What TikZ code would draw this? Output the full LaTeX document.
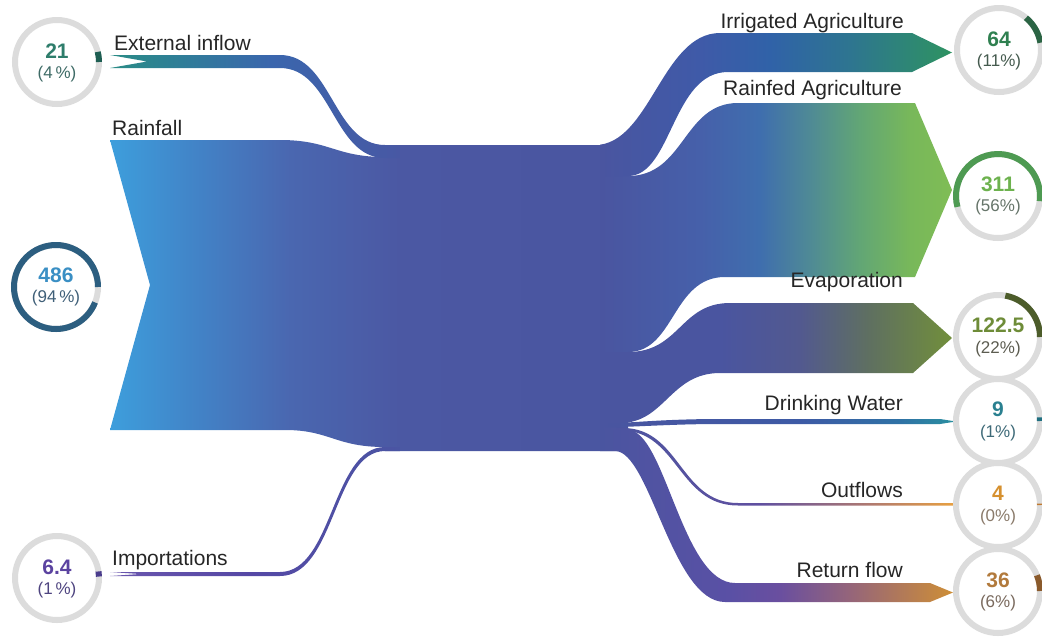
\documentclass[tikz,border=0pt]{standalone}
\usepackage{fontspec}
\setmainfont{Liberation Sans}
\usetikzlibrary{calc}
% trunk colours
\definecolor{tA}{HTML}{3D9EDC}\definecolor{tB}{HTML}{4282C6}\definecolor{tC}{HTML}{4A67B0}
\definecolor{tD}{HTML}{4B58A3}\definecolor{tE}{HTML}{4A55A0}
\definecolor{eA}{HTML}{2A8C86}\definecolor{eB}{HTML}{2F7E98}\definecolor{eC}{HTML}{3A66AD}\definecolor{eD}{HTML}{4858A4}
\definecolor{iA}{HTML}{6A56AE}\definecolor{iB}{HTML}{5548A5}\definecolor{iD}{HTML}{4A55A3}
\definecolor{gB}{HTML}{3F5AA8}\definecolor{gC}{HTML}{3062A8}\definecolor{gD}{HTML}{2E7590}\definecolor{gE}{HTML}{2E9460}
\definecolor{rB}{HTML}{4660AA}\definecolor{rC}{HTML}{3F6EAE}\definecolor{rD}{HTML}{4F8A95}\definecolor{rE}{HTML}{62A675}\definecolor{rF}{HTML}{78B85A}\definecolor{rG}{HTML}{80BD55}
\definecolor{vC}{HTML}{52598F}\definecolor{vD}{HTML}{5F7060}\definecolor{vE}{HTML}{72903A}
\definecolor{dC}{HTML}{3D5AA5}\definecolor{dD}{HTML}{2F72A5}\definecolor{dE}{HTML}{2A90A0}
\definecolor{oB}{HTML}{6050A0}\definecolor{oC}{HTML}{B07A70}\definecolor{oD}{HTML}{E8A040}
\definecolor{fB}{HTML}{5A50A5}\definecolor{fC}{HTML}{6A4F9F}\definecolor{fD}{HTML}{95657A}\definecolor{fE}{HTML}{CF8F35}
\definecolor{ringgray}{HTML}{DCDCDC}
\definecolor{lblgray}{HTML}{262626}
% circle colours: arc / number / percent
\definecolor{a21}{HTML}{1E5E52}\definecolor{n21}{HTML}{2E7D6B}\definecolor{p21}{HTML}{3E6B66}
\definecolor{a486}{HTML}{2C5E80}\definecolor{n486}{HTML}{3A8FC4}\definecolor{p486}{HTML}{3F5F78}
\definecolor{aimp}{HTML}{4A3C8C}\definecolor{nimp}{HTML}{5B43A0}\definecolor{pimp}{HTML}{4E4480}
\definecolor{airr}{HTML}{2B6444}\definecolor{nirr}{HTML}{2F8050}\definecolor{pirr}{HTML}{445A4E}
\definecolor{arf}{HTML}{4E9A52}\definecolor{nrf}{HTML}{6DB24E}\definecolor{prf}{HTML}{66756A}
\definecolor{aev}{HTML}{4C5C2A}\definecolor{nev}{HTML}{6E8C38}\definecolor{pev}{HTML}{5C5C50}
\definecolor{adw}{HTML}{1F6F80}\definecolor{ndw}{HTML}{2A8090}\definecolor{pdw}{HTML}{3E6A78}
\definecolor{aout}{HTML}{C07A30}\definecolor{nout}{HTML}{D6902E}\definecolor{pout}{HTML}{8A7A6A}
\definecolor{aret}{HTML}{8A5A2C}\definecolor{nret}{HTML}{B27A3C}\definecolor{pret}{HTML}{7A6A5E}
\pgfdeclarehorizontalshading{trunkshade}{100bp}{color(0bp)=(tA); color(25bp)=(tA); color(33.5bp)=(tB); color(42bp)=(tC); color(52.4bp)=(tD); color(75bp)=(tE); color(100bp)=(tE)}
\pgfdeclarehorizontalshading{extshade}{100bp}{color(0bp)=(eA); color(25bp)=(eA); color(37.1bp)=(eB); color(52.6bp)=(eC); color(75bp)=(eD); color(100bp)=(eD)}
\pgfdeclarehorizontalshading{impshade}{100bp}{color(0bp)=(iA); color(25bp)=(iA); color(49.1bp)=(iB); color(75bp)=(iD); color(100bp)=(iD)}
\pgfdeclarehorizontalshading{irrshade}{100bp}{color(0bp)=(tE); color(25bp)=(tE); color(39.1bp)=(gB); color(48.9bp)=(gC); color(60.2bp)=(gD); color(75bp)=(gE); color(100bp)=(gE)}
\pgfdeclarehorizontalshading{rfshade}{100bp}{color(0bp)=(tE); color(25bp)=(tE); color(39.1bp)=(rB); color(47.5bp)=(rC); color(54.6bp)=(rD); color(61.6bp)=(rE); color(68.7bp)=(rF); color(75bp)=(rG); color(100bp)=(rG)}
\pgfdeclarehorizontalshading{evshade}{100bp}{color(0bp)=(tE); color(25bp)=(tE); color(41.9bp)=(tE); color(53.2bp)=(vC); color(63bp)=(vD); color(75bp)=(vE); color(100bp)=(vE)}
\pgfdeclarehorizontalshading{dwshade}{100bp}{color(0bp)=(tE); color(25bp)=(tE); color(53.2bp)=(dC); color(67.3bp)=(dD); color(75bp)=(dE); color(100bp)=(dE)}
\pgfdeclarehorizontalshading{ofshade}{100bp}{color(0bp)=(tE); color(25bp)=(tE); color(47.5bp)=(oB); color(63bp)=(oC); color(75bp)=(oD); color(100bp)=(oD)}
\pgfdeclarehorizontalshading{rtshade}{100bp}{color(0bp)=(tE); color(25bp)=(tE); color(43.3bp)=(fB); color(50.4bp)=(fC); color(60.2bp)=(fD); color(75bp)=(fE); color(100bp)=(fE)}
\newcommand{\bandfill}[4]{\begin{scope}\clip #1; \shade[shading=#2] (#3,0) rectangle (#4,638);\end{scope}}
\tikzset{
  lbl/.style={inner sep=0pt, text=lblgray, font=\fontsize{21}{25}\selectfont},
  ring/.style={line width=6pt, draw=ringgray, fill=white},
  arcmark/.style={line width=6pt, line cap=butt},
  num/.style={inner sep=0pt, font=\fontsize{21}{25}\selectfont\bfseries},
  pct/.style={inner sep=0pt, font=\fontsize{17}{20}\selectfont},
}
\begin{document}
\begin{tikzpicture}[x=1pt,y=-1pt]
\useasboundingbox (0,0) rectangle (1042,638);
% ---------- left inflows and trunk ----------
\bandfill{(110,140) -- (280,140) .. controls (330,140) and (335,157) .. (385,157) -- (385,145) -- (628,145) -- (628,451) -- (385,451) -- (385,447) .. controls (335,447) and (330,430) .. (285,430) -- (110,430) -- (150,285) -- cycle}{trunkshade}{110}{640}
\bandfill{(110,55) -- (280,55) .. controls (332,55) and (333,145) .. (385,145) -- (400,145) -- (400,158) -- (385,158) .. controls (333,158) and (332,68) .. (280,68) -- (110,68) -- (147,61.5) -- cycle}{extshade}{110}{400}
\bandfill{(110,572) -- (280,572) .. controls (333,572) and (332,447) .. (385,447) -- (400,447) -- (400,451) -- (385,451) .. controls (334,451) and (335,576) .. (280,576) -- (110,576) -- (140,574) -- cycle}{impshade}{110}{400}
% ---------- right outflows ----------
\bandfill{(600,176) -- (628,176) .. controls (685,176) and (683,103) .. (738,103) -- (915,103) -- (952,190) -- (915,277) -- (725,277) .. controls (672,277) and (675,352) .. (628,352) -- (600,352) -- cycle}{rfshade}{600}{955}
\bandfill{(595,145) .. controls (650,145) and (662,33) .. (720,33) -- (912,33) -- (952,52.5) -- (912,72) -- (728,72) .. controls (672,72) and (672,176) .. (628,176) -- (595,176) -- cycle}{irrshade}{600}{955}
\bandfill{(600,352) -- (628,352) .. controls (680,352) and (680,303) .. (730,303) -- (913,303) -- (952,338) -- (913,373) -- (720,373) .. controls (670,373) and (665,423) .. (620,423) -- (600,423) -- cycle}{evshade}{600}{955}
\bandfill{(600,423) -- (620,423) .. controls (650,421) and (680,419) .. (720,419) -- (940,419) -- (956,421.5) -- (940,424) -- (720,424) .. controls (680,424) and (650,426) .. (620,427) -- (600,427) -- cycle}{dwshade}{600}{955}
\bandfill{(600,427) -- (623,428) .. controls (680,428) and (680,503) .. (738,503) -- (956,503) -- (956,505.5) -- (738,505.5) .. controls (678,505.5) and (678,430.5) .. (621,430.5) -- (600,430.5) -- cycle}{ofshade}{600}{955}
\bandfill{(600,430) -- (628,430) .. controls (665,430) and (682,583) .. (735,583) -- (930,583) -- (953,592.5) -- (930,602) -- (725,602) .. controls (672,602) and (650,451) .. (615,451) -- (600,451) -- cycle}{rtshade}{600}{955}
% ---------- labels ----------
\node[lbl, anchor=base west] (lext) at (114,50) {External inflow};
\node[lbl, anchor=base west] (lrain) at (112,135) {Rainfall};
\node[lbl, anchor=base west] (limp) at (112,565) {Importations};
\node[lbl, anchor=base east] (lirr) at (904,28) {Irrigated Agriculture};
\node[lbl, anchor=base east] (lrf) at (902,95) {Rainfed Agriculture};
\node[lbl, anchor=base east] (lev) at (903,287) {Evaporation};
\node[lbl, anchor=base east] (ldw) at (903,410) {Drinking Water};
\node[lbl, anchor=base east] (lout) at (903,497) {Outflows};
\node[lbl, anchor=base east] (lret) at (903,577) {Return flow};
% ---------- circles ----------
% 21
\coordinate (k21) at (57,62);
\draw[ring] (k21) circle[radius=42pt];
\draw[arcmark, draw=a21] (k21) ++(0:42pt) arc[start angle=0, end angle=14, radius=42pt];
\node[num, text=n21] (t21) at (57,51) {21};
\node[pct, text=p21] (q21) at (57,74) {(4\,\%)};
% 486
\coordinate (k486) at (56,287);
\draw[ring] (k486) circle[radius=42pt];
\draw[arcmark, draw=a486] (k486) ++(0:42pt) arc[start angle=0, end angle=338.4, radius=42pt];
\node[num, text=n486] (t486) at (56,275) {486};
\node[pct, text=p486] (q486) at (56,298) {(94\,\%)};
% 6.4
\coordinate (kimp) at (57,578);
\draw[ring] (kimp) circle[radius=42pt];
\draw[arcmark, draw=aimp] (kimp) ++(2:42pt) arc[start angle=2, end angle=9, radius=42pt];
\node[num, text=nimp] (timp) at (57,567) {6.4};
\node[pct, text=pimp] (qimp) at (57,590) {(1\,\%)};
% 64
\coordinate (kirr) at (999,50);
\draw[ring] (kirr) circle[radius=42pt];
\draw[arcmark, draw=airr] (kirr) ++(10:42pt) arc[start angle=10, end angle=50, radius=42pt];
\node[num, text=nirr] (tirr) at (999,39) {64};
\node[pct, text=pirr] (qirr) at (999,62) {(11\%)};
% 311
\coordinate (krf) at (998,196);
\draw[ring] (krf) circle[radius=42pt];
\draw[arcmark, draw=arf] (krf) ++(-7:42pt) arc[start angle=-7, end angle=195, radius=42pt];
\node[num, text=nrf] (trf) at (998,184) {311};
\node[pct, text=prf] (qrf) at (998,207) {(56\%)};
% 122.5
\coordinate (kev) at (998,337);
\draw[ring] (kev) circle[radius=42pt];
\draw[arcmark, draw=aev] (kev) ++(0:42pt) arc[start angle=0, end angle=80, radius=42pt];
\node[num, text=nev] (tev) at (998,325) {122.5};
\node[pct, text=pev] (qev) at (998,349) {(22\%)};
% 9
\coordinate (kdw) at (998,421);
\draw[ring] (kdw) circle[radius=42pt];
\draw[arcmark, draw=adw] (kdw) ++(0:42pt) arc[start angle=0, end angle=5, radius=42pt];
\node[num, text=ndw] (tdw) at (998,409) {9};
\node[pct, text=pdw] (qdw) at (998,433) {(1\%)};
% 4
\coordinate (kout) at (998,505);
\draw[ring] (kout) circle[radius=42pt];
\draw[arcmark, draw=aout] (kout) ++(0:42pt) arc[start angle=0, end angle=2, radius=42pt];
\node[num, text=nout] (tout) at (998,493) {4};
\node[pct, text=pout] (qout) at (998,517) {(0\%)};
% 36
\coordinate (kret) at (998,591);
\draw[ring] (kret) circle[radius=42pt];
\draw[arcmark, draw=aret] (kret) ++(0:42pt) arc[start angle=0, end angle=22, radius=42pt];
\node[num, text=nret] (tret) at (998,580) {36};
\node[pct, text=pret] (qret) at (998,603) {(6\%)};
\end{tikzpicture}
\end{document}
